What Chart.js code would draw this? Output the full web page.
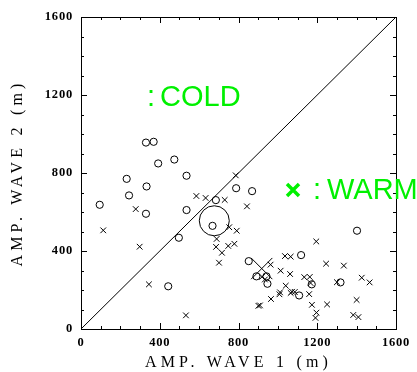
<!DOCTYPE html>
<html>
<head>
<meta charset="utf-8">
<script src="https://cdn.jsdelivr.net/npm/chart.js@4.4.1/dist/chart.umd.min.js"></script>
<style>
  html, body { margin: 0; padding: 0; background: #fff; }
  canvas { display: block; }
</style>
</head>
<body>
<canvas id="myChart" width="417" height="372"></canvas>
<script>
// datos
const coldX = [95, 232, 244, 330, 369, 333, 330, 392, 474, 536, 536, 497, 443, 685, 668, 788, 869, 852, 891, 942, 947, 1108, 1118, 1172, 1318, 1402];
const coldY = [637, 770, 685, 956, 960, 731, 591, 849, 869, 786, 610, 468, 219, 661, 529, 722, 707, 348, 270, 270, 232, 172, 379, 229, 239, 504];

const warmX = [113, 278, 298, 345, 533, 586, 633, 730, 786, 843, 753, 791, 689, 686, 716, 748, 779, 701,
  963, 920, 934, 965, 901, 909, 1014, 1036, 1065, 1062, 1011, 1008, 1040, 1065, 1072, 1086, 1134, 1162,
  1166, 1159, 1173, 1195, 1196, 1191, 1245, 1250, 1335, 1300, 1400, 1383, 1409, 1426, 1466];
const warmY = [506, 615, 422, 229, 70, 682, 672, 662, 788, 629, 522, 504, 462, 421, 391, 426, 437, 340,
  330, 268, 254, 154, 119, 121, 299, 374, 371, 282, 188, 178, 222, 185, 191, 190, 266, 267,
  236, 179, 124, 449, 84, 57, 335, 126, 325, 240, 149, 72, 61, 263, 239];

const coldMean = [677, 555];
const warmMean = [918, 310];
const diagonal = [0, 1600];
const axisTicks = [0, 400, 800, 1200, 1600];

const xTitle = "AMP. WAVE 1 (m)";
const yTitle = "AMP. WAVE 2 (m)";
const labelCold = "COLD";
const labelWarm = "WARM";

function toPoints(xs, ys) {
  return xs.map((x, i) => ({ x: x, y: ys[i] }));
}

// espaciado de letras: titulos (antes de los datos) y numeros (despues)
const espaciado = {
  id: 'espaciado',
  beforeDraw(chart) { chart.ctx.letterSpacing = '4.2px'; },
  beforeDatasetsDraw(chart) { chart.ctx.letterSpacing = '0px'; },
  afterDatasetsDraw(chart) { chart.ctx.letterSpacing = '0.8px'; }
};

const marco = {
  id: 'marco',
  afterDraw(chart) {
    const ctx = chart.ctx;
    const a = chart.chartArea;
    const sx = chart.scales.x;
    const sy = chart.scales.y;
    ctx.save();
    ctx.letterSpacing = '0px';
    ctx.strokeStyle = '#000';
    ctx.lineWidth = 1;
    ctx.strokeRect(a.left + 0.5, a.top + 0.5, a.right - a.left, a.bottom - a.top);
    ctx.beginPath();
    for (let v = 0; v <= 1600; v += 100) {
      const len = v % 400 === 0 ? 6 : 3;
      const px = Math.round(sx.getPixelForValue(v)) + 0.5;
      const py = Math.round(sy.getPixelForValue(v)) + 0.5;
      ctx.moveTo(px, a.bottom); ctx.lineTo(px, a.bottom - len);
      ctx.moveTo(px, a.top); ctx.lineTo(px, a.top + len);
      ctx.moveTo(a.left, py); ctx.lineTo(a.left + len, py);
      ctx.moveTo(a.right, py); ctx.lineTo(a.right - len, py);
    }
    ctx.stroke();

    // etiquetas verdes
    ctx.fillStyle = '#00f000';
    ctx.font = '29px "Liberation Sans", Arial, sans-serif';
    ctx.textBaseline = 'alphabetic';
    ctx.textAlign = 'left';
    ctx.fillText(':', 147, 106);
    ctx.fillText(labelCold, 160, 106);
    ctx.fillText(':', 313, 199);
    ctx.fillText(labelWarm, 327, 199);

    ctx.strokeStyle = '#00f000';
    ctx.lineWidth = 3.5;
    ctx.beginPath();
    ctx.moveTo(287, 184); ctx.lineTo(299, 196);
    ctx.moveTo(299, 184); ctx.lineTo(287, 196);
    ctx.stroke();
    ctx.restore();
  }
};

const fuenteTitulo = { family: '"Liberation Serif", "DejaVu Serif", serif', size: 16, lineHeight: 1.2 };
const fuenteTicks = { family: '"Liberation Serif", "DejaVu Serif", serif', size: 12.5, weight: 'bold' };

const ctx = document.getElementById('myChart').getContext('2d');

const myChart = new Chart(ctx, {
  type: 'scatter',
  data: {
    datasets: [
      {
        label: 'diagonal',
        data: toPoints(diagonal, diagonal),
        showLine: true,
        borderColor: '#000',
        borderWidth: 1,
        pointRadius: 0
      },
      {
        label: 'COLD',
        data: toPoints(coldX, coldY),
        pointStyle: 'circle',
        pointRadius: 3.6,
        borderColor: '#000',
        backgroundColor: 'rgba(0,0,0,0)',
        borderWidth: 1
      },
      {
        label: 'WARM',
        data: toPoints(warmX, warmY),
        pointStyle: 'crossRot',
        pointRadius: 4,
        borderColor: '#000',
        borderWidth: 1
      },
      {
        label: 'COLD mean',
        data: toPoints([coldMean[0]], [coldMean[1]]),
        pointStyle: 'circle',
        pointRadius: 15,
        borderColor: '#000',
        backgroundColor: 'rgba(0,0,0,0)',
        borderWidth: 1
      },
      {
        label: 'WARM mean',
        data: toPoints([warmMean[0]], [warmMean[1]]),
        pointStyle: 'crossRot',
        pointRadius: 15,
        borderColor: '#000',
        borderWidth: 1
      }
    ]
  },
  options: {
    responsive: false,
    animation: false,
    devicePixelRatio: 1,
    layout: { padding: { top: 17, right: 21, left: 0, bottom: 0 } },
    plugins: {
      legend: { display: false },
      tooltip: { enabled: false }
    },
    scales: {
      x: {
        type: 'linear',
        min: 0,
        max: 1600,
        afterBuildTicks: s => { s.ticks = axisTicks.map(v => ({ value: v })); },
        afterFit: s => { s.height = 43; },
        grid: { display: false, drawTicks: false },
        border: { display: false },
        ticks: {
          z: 1,
          padding: 6,
          color: '#000',
          maxRotation: 0,
          callback: v => String(v),
          font: fuenteTicks
        },
        title: {
          display: true,
          text: xTitle,
          color: '#000',
          padding: { top: 0, bottom: 0 },
          font: fuenteTitulo
        }
      },
      y: {
        type: 'linear',
        min: 0,
        max: 1600,
        afterBuildTicks: s => { s.ticks = axisTicks.map(v => ({ value: v })); },
        afterFit: s => { s.width = 81; },
        grid: { display: false, drawTicks: false },
        border: { display: false },
        ticks: {
          z: 1,
          padding: 8,
          color: '#000',
          callback: v => String(v),
          font: fuenteTicks
        },
        title: {
          display: true,
          text: yTitle,
          color: '#000',
          padding: { top: 8, bottom: 0 },
          font: fuenteTitulo
        }
      }
    }
  },
  plugins: [espaciado, marco]
});
</script>
</body>
</html>
